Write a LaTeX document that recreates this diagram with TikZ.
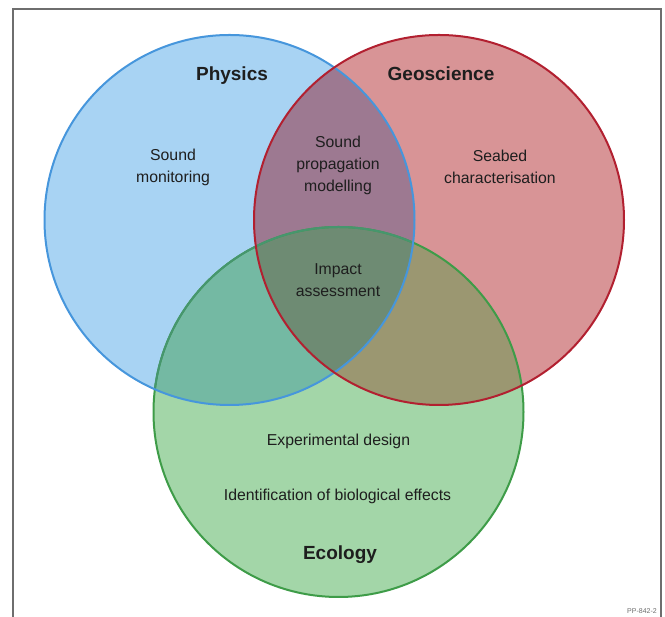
\documentclass[tikz,border=0pt]{standalone}
\usepackage{fontspec}
\setmainfont{Liberation Sans}
\definecolor{cblue}{RGB}{168,211,243}
\definecolor{cred}{RGB}{216,148,150}
\definecolor{cgreen}{RGB}{163,214,168}
\definecolor{cbr}{RGB}{157,121,145}
\definecolor{cbg}{RGB}{116,185,163}
\definecolor{crg}{RGB}{155,151,113}
\definecolor{cbrg}{RGB}{110,139,115}
\definecolor{sblue}{RGB}{70,150,220}
\definecolor{sred}{RGB}{178,32,48}
\definecolor{sgreen}{RGB}{62,156,72}
\definecolor{sgreenmut}{RGB}{70,150,110}
\definecolor{framec}{RGB}{110,110,110}
\definecolor{txt}{RGB}{30,30,30}
\begin{document}
\begin{tikzpicture}[x=1pt,y=1pt,
  title/.style={font=\fontsize{19}{22}\selectfont\bfseries, text=txt, inner sep=0pt},
  label/.style={font=\fontsize{15.8}{22}\selectfont, text=txt, align=center, inner sep=0pt},
  ring/.style={line width=2pt}]
\useasboundingbox (0,0) rectangle (665,617);
\fill[white] (0,0) rectangle (665,617);
\def\cB{(229.5,397) circle (185pt)}
\def\cR{(439,397) circle (185pt)}
\def\cG{(338.5,205) circle (185pt)}
% solo fills
\fill[cblue] \cB;
\fill[cred] \cR;
\fill[cgreen] \cG;
% pairwise
\begin{scope}\clip \cB; \fill[cbr] \cR; \end{scope}
\begin{scope}\clip \cB; \fill[cbg] \cG; \end{scope}
\begin{scope}\clip \cR; \fill[crg] \cG; \end{scope}
\begin{scope}\clip \cB; \clip \cR; \fill[cbrg] \cG; \end{scope}
% strokes
\draw[ring, sgreen] \cG;
\begin{scope}\clip \cB; \draw[ring, sgreenmut] \cG; \end{scope}
\draw[ring, sblue] \cB;
\draw[ring, sred] \cR;
% frame
\draw[framec, line width=1.5pt] (13,0) -- (13,608) -- (661,608) -- (661,0);
% texts
\node[title, anchor=base] (phys) at (232,536) {Physics};
\node[title, anchor=base] (geo) at (441,536) {Geoscience};
\node[title, anchor=base] (eco) at (340,57) {Ecology};
\node[label] (mon) at (173,450) {Sound\\monitoring};
\node[label] (prop) at (338,452) {Sound\\propagation\\modelling};
\node[label] (seabed) at (500,450) {Seabed\\characterisation};
\node[label] (impact) at (338,337) {Impact\\assessment};
\node[label, anchor=base] (exp) at (338.5,171.3) {Experimental design};
\node[label, anchor=base] (ident) at (337.5,116) {Identification of biological effects};
\node[font=\fontsize{7}{8}\selectfont, text=framec, anchor=base east, inner sep=0pt] (pp) at (657,3) {PP-842-2};
\end{tikzpicture}
\end{document}
